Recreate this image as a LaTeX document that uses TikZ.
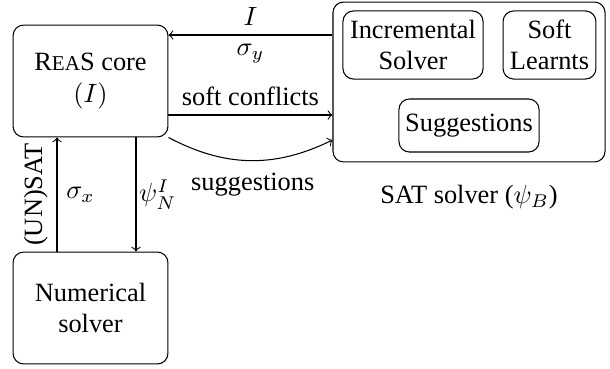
\documentclass[tikz,border=0pt]{standalone}
\usepackage{amsmath, amssymb}
\usepackage{fontspec}
\setmainfont{Liberation Serif}
\usepackage{tikz}
\usetikzlibrary{positioning}

\tikzset{
  box/.style={draw, rounded corners=4pt, align=center, inner sep=1pt},
}

\begin{document}
\begin{tikzpicture}[x=0.379pt, y=-0.379pt]
\useasboundingbox (0,0) rectangle (610,368);
\node[box, minimum width=58.7pt, minimum height=42.4pt] (core) at (90.5,81) {R{\footnotesize EA}S core\\$(I)$};
\node[box, minimum width=58.7pt, minimum height=42.4pt] (num) at (90.5,308) {Numerical\\solver};
\node[box, minimum width=103.1pt, minimum height=60.6pt] (sat) at (469,82) {};
\node[box, minimum width=53.1pt, minimum height=25.8pt] (inc) at (413,45) {Incremental\\Solver};
\node[box, minimum width=35.2pt, minimum height=25.8pt] (soft) at (549.5,45) {Soft\\Learnts};
\node[box, minimum width=53.1pt, minimum height=20.1pt] (sugg) at (469,125.5) {Suggestions};
\node[below=5pt of sat] (satlabel) {SAT solver ($\psi_B$)};
\draw[->] (sat.west |- 0,35) -- (core.east |- 0,35) node[midway,above] {$I$} node[midway,below] {$\sigma_y$};
\draw[->] (core.east |- 0,115) -- (sat.west |- 0,115) node[midway,above] {soft conflicts};
\draw[->] (core.south east) to[bend right=27] node[midway,below=1pt,xshift=1pt] {suggestions} (sat.west |- 0,140);
\draw[->] (num.north -| 57,0) -- (core.south -| 57,0) node[midway,above,sloped] {(UN)SAT} node[midway,right] {$\sigma_x$};
\draw[->] (core.south -| 136,0) -- (num.north -| 136,0) node[midway,right,inner sep=1pt] {$\psi^I_N$};
\end{tikzpicture}
\end{document}
